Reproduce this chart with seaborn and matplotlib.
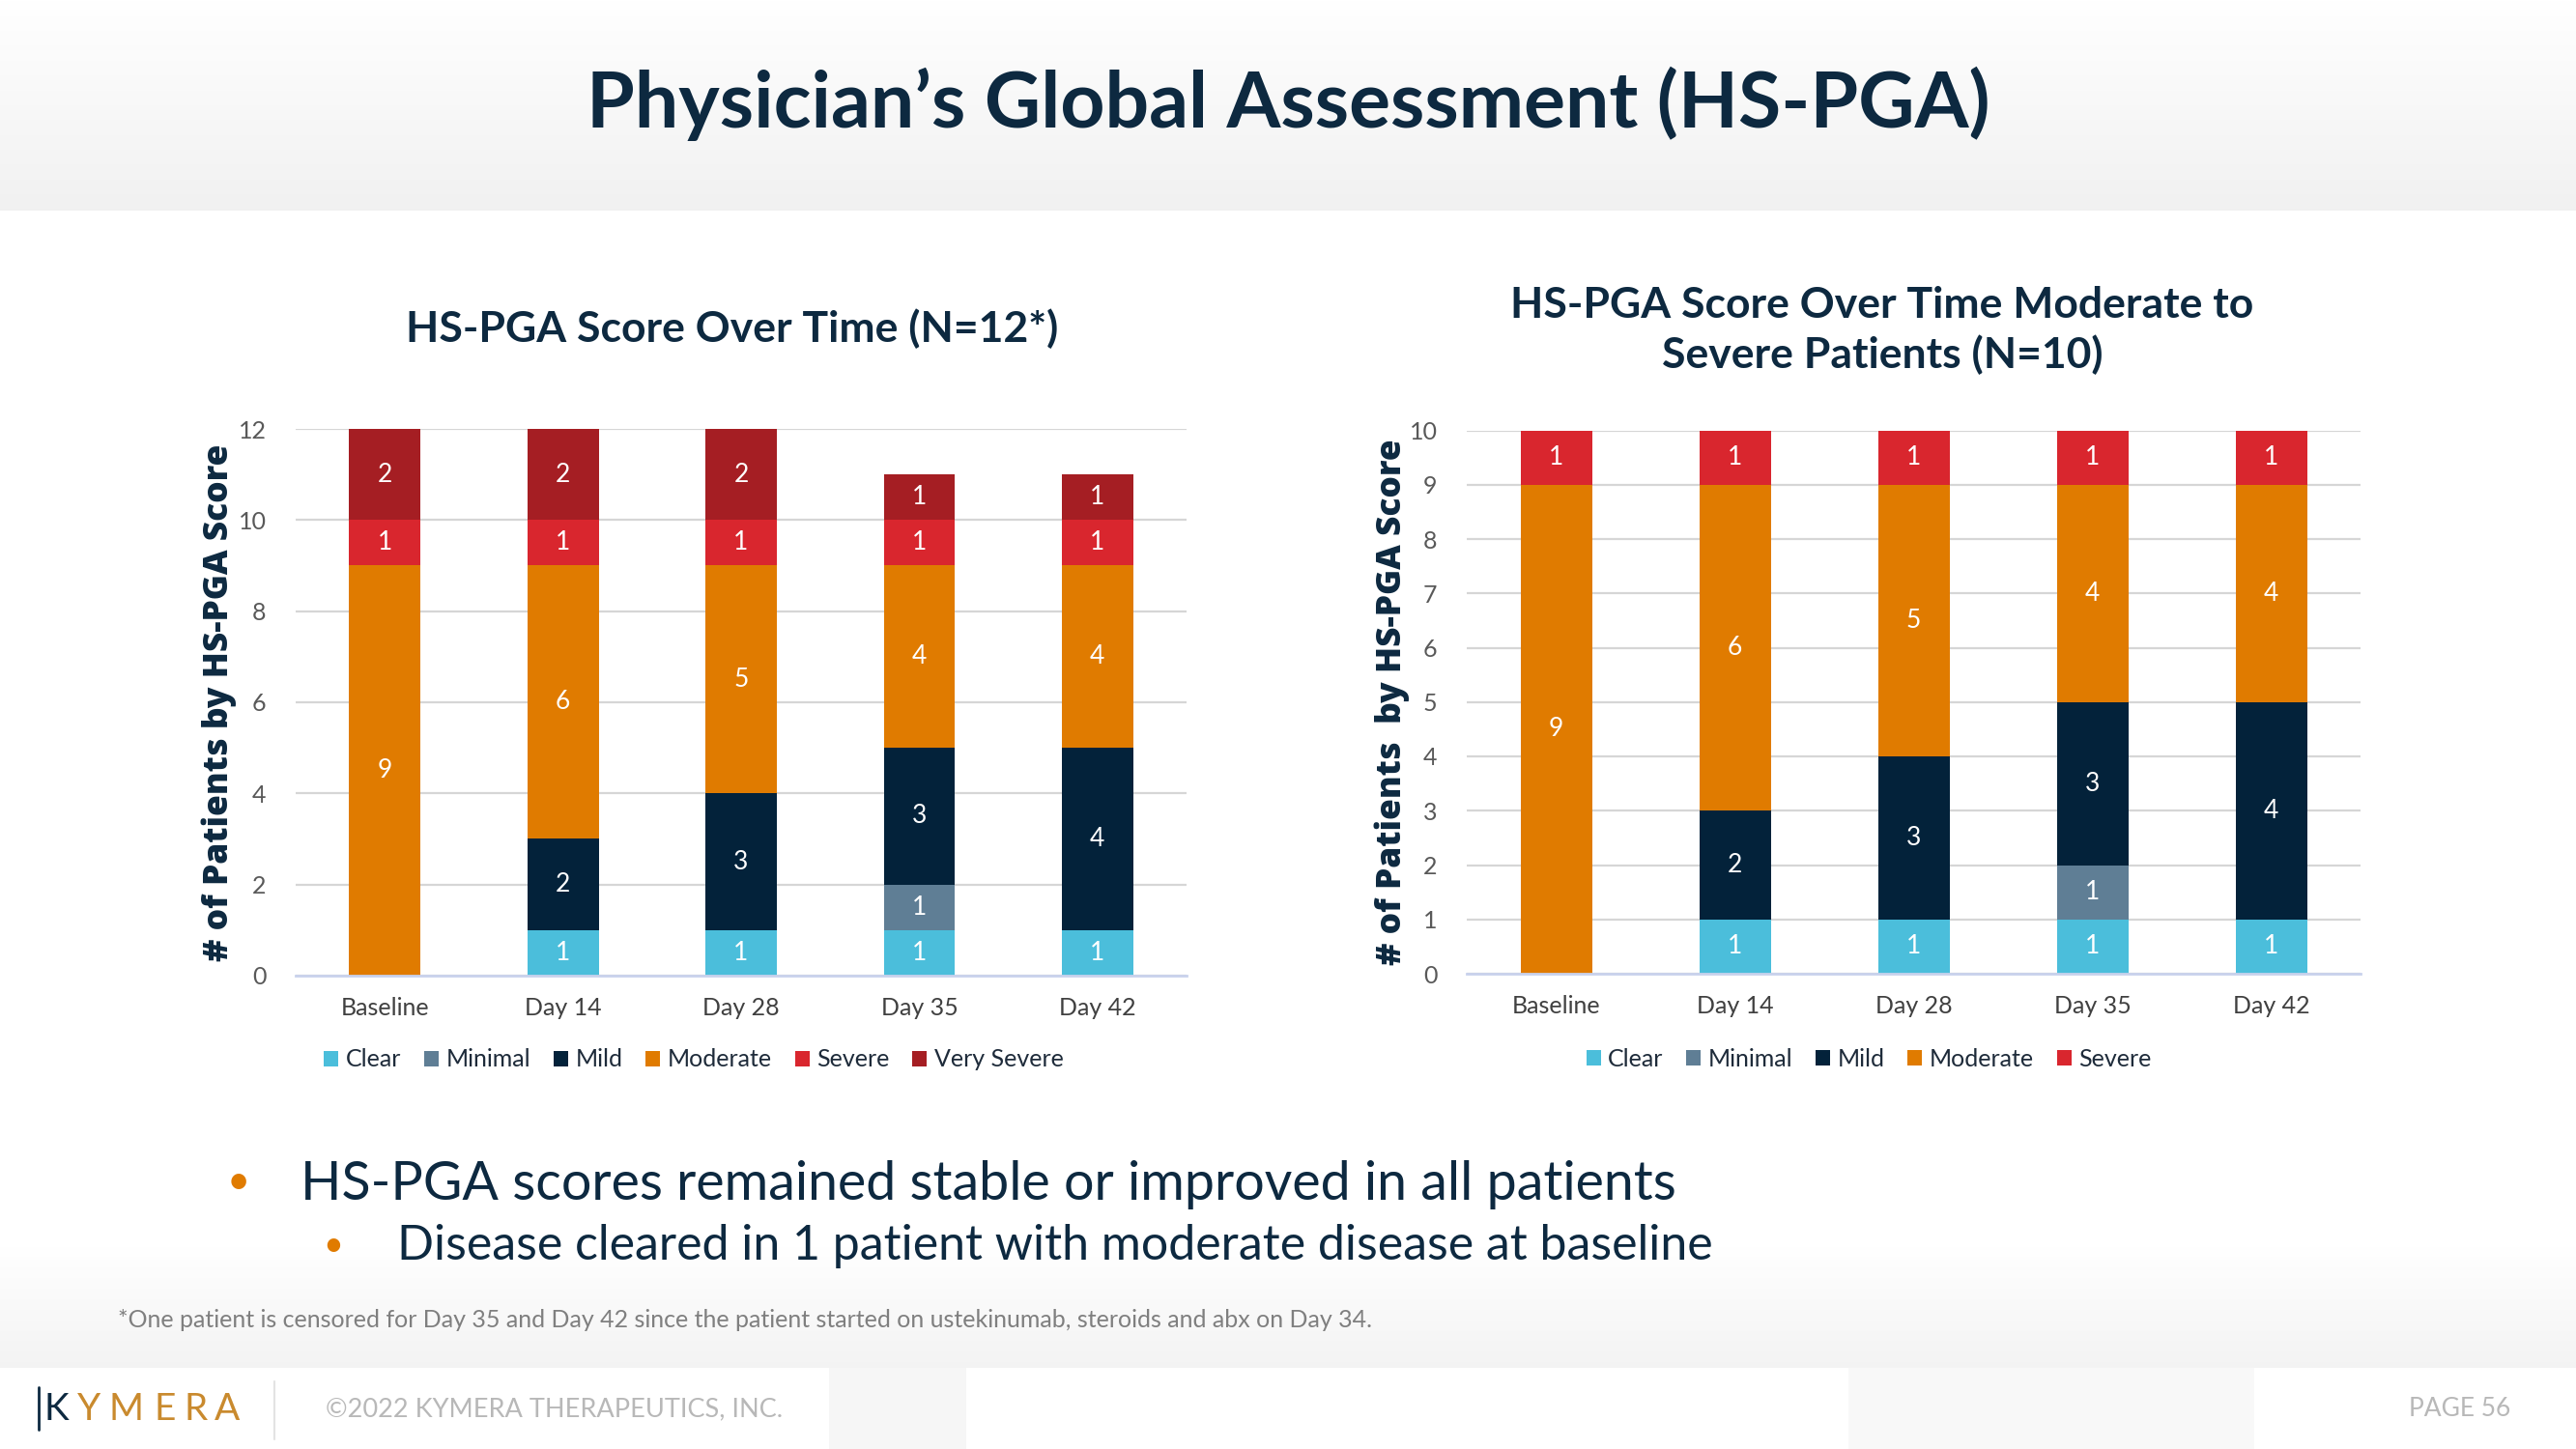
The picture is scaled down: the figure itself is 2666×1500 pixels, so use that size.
import numpy as np
import pandas as pd
import matplotlib
matplotlib.use("Agg")
import matplotlib.pyplot as plt
import seaborn as sns
from matplotlib.patches import Patch

# ---------------- data ----------------
timepoints = ["Baseline", "Day 14", "Day 28", "Day 35", "Day 42"]

categories_all = ["Clear", "Minimal", "Mild", "Moderate", "Severe", "Very Severe"]
clear_all = [0, 1, 1, 1, 1]
minimal_all = [0, 0, 0, 1, 0]
mild_all = [0, 2, 3, 3, 4]
moderate_all = [9, 6, 5, 4, 4]
severe_all = [1, 1, 1, 1, 1]
very_severe_all = [2, 2, 2, 1, 1]

categories_ms = ["Clear", "Minimal", "Mild", "Moderate", "Severe"]
clear_ms = [0, 1, 1, 1, 1]
minimal_ms = [0, 0, 0, 1, 0]
mild_ms = [0, 2, 3, 3, 4]
moderate_ms = [9, 6, 5, 4, 4]
severe_ms = [1, 1, 1, 1, 1]

yticks_all = [0, 2, 4, 6, 8, 10, 12]
yticks_ms = [0, 1, 2, 3, 4, 5, 6, 7, 8, 9, 10]

colors = {
    "Clear": "#4BBEDB",
    "Minimal": "#5F7E95",
    "Mild": "#03223A",
    "Moderate": "#E07B00",
    "Severe": "#D9262E",
    "Very Severe": "#A51E23",
}

NAVY = "#0D2940"

sns.set_theme(style="white")
plt.rcParams["font.family"] = ["Lato", "DejaVu Sans"]

fig = plt.figure(figsize=(26.66, 15), dpi=100)

# ---------------- background bands ----------------
bg = fig.add_axes([0, 0, 1, 1], zorder=-10)
bg.set_xlim(0, 2666)
bg.set_ylim(1500, 0)
bg.axis("off")
grad = np.linspace(1.0, 0.945, 100).reshape(-1, 1)
bg.imshow(np.dstack([grad] * 3), extent=[0, 2666, 218, 0], aspect="auto")
grad2 = np.linspace(1.0, 0.955, 100).reshape(-1, 1)
bg.imshow(np.dstack([grad2] * 3), extent=[0, 2666, 1416, 1290], aspect="auto")
bg.fill_between([858, 1000], 1416, 1500, color="#F6F6F6", lw=0)
bg.fill_between([1913, 2333], 1416, 1500, color="#F8F8F8", lw=0)
bg.plot([284, 284], [1430, 1490], color="#E3E3E3", lw=1.5)
bg.plot([40, 40], [1436, 1480], color=NAVY, lw=2)


def stacked(ax, layers, names, ymax, yticks):
    cum = np.zeros(len(timepoints))
    cums = []
    for vals in layers:
        cum = cum + np.array(vals, dtype=float)
        cums.append(cum.copy())
    for i in reversed(range(len(layers))):
        d = pd.DataFrame({"Timepoint": timepoints, "Top": cums[i]})
        sns.barplot(data=d, x="Timepoint", y="Top", order=timepoints,
                    color=colors[names[i]], saturation=1, width=0.4,
                    ax=ax, zorder=3, edgecolor="none", linewidth=0)
    for i, vals in enumerate(layers):
        for j, v in enumerate(vals):
            if v > 0:
                ax.text(j, cums[i][j] - v / 2, str(v), ha="center", va="center",
                        color="white", fontsize=19, zorder=5)
    ax.set_xlim(-0.5, len(timepoints) - 0.5)
    ax.set_ylim(0, ymax)
    ax.set_yticks(yticks)
    ax.yaxis.grid(True, color="#D6D6D6", lw=1.6, zorder=0)
    ax.set_axisbelow(True)
    for s in ["top", "right", "left"]:
        ax.spines[s].set_visible(False)
    ax.spines["bottom"].set_color("#C9D2EC")
    ax.spines["bottom"].set_linewidth(2)
    ax.spines["bottom"].set_zorder(4)
    ax.tick_params(axis="y", length=0, labelsize=18, labelcolor="#595959", pad=22)
    ax.tick_params(axis="x", length=0, labelsize=18, labelcolor="#404040", pad=16)
    ax.set_xlabel("")
    ax.set_facecolor("none")


YLAB_FONT = ["Open Sans", "Lato", "DejaVu Sans"]

# ---------------- left chart ----------------
ax1 = fig.add_axes([0.1148, 0.3267, 0.3458, 0.3773])
stacked(ax1, [clear_all, minimal_all, mild_all, moderate_all, severe_all, very_severe_all],
        categories_all, 12, yticks_all)
ax1.set_ylabel("# of Patients by HS-PGA Score", fontsize=25.5, fontweight=800,
               color=NAVY, family=YLAB_FONT)
ax1.yaxis.set_label_coords(-0.066, 0.5)

# ---------------- right chart ----------------
ax2 = fig.add_axes([0.5694, 0.328, 0.347, 0.375])
stacked(ax2, [clear_ms, minimal_ms, mild_ms, moderate_ms, severe_ms],
        categories_ms, 10, yticks_ms)
ax2.set_ylabel("# of Patients  by HS-PGA Score", fontsize=25.5, fontweight=800,
               color=NAVY, family=YLAB_FONT)
ax2.yaxis.set_label_coords(-0.064, 0.5)

# ---------------- titles ----------------
fig.text(1333 / 2666, 1 - 107 / 1500, "Physician\u2019s Global Assessment (HS-PGA)",
         ha="center", va="center", fontsize=58, fontweight="bold", color=NAVY)
fig.text(758 / 2666, 1 - 340 / 1500, "HS-PGA Score Over Time (N=12*)",
         ha="center", va="center", fontsize=32, fontweight="bold", color=NAVY)
fig.text(1948 / 2666, 1 - 342 / 1500, "HS-PGA Score Over Time Moderate to\nSevere Patients (N=10)",
         ha="center", va="center", fontsize=32, fontweight="bold", color=NAVY,
         linespacing=1.32)

# ---------------- legends ----------------
def legend(names, x, y):
    handles = [Patch(facecolor=colors[n], edgecolor="none", label=n) for n in names]
    lg = fig.legend(handles=handles, loc="center", bbox_to_anchor=(x, y), ncol=len(names),
                    frameon=False, fontsize=18, handlelength=0.6, handleheight=0.6,
                    handletextpad=0.3, columnspacing=0.95)
    for t in lg.get_texts():
        t.set_color("#1E2B3A")

legend(categories_all, 718 / 2666, 1 - 1097 / 1500)
legend(categories_ms, 1934 / 2666, 1 - 1096 / 1500)

# ---------------- bullets ----------------
fig.text(247 / 2666, 1 - 1224 / 1500, "\u2022", ha="center", va="center",
         fontsize=30, color="#E07B00")
fig.text(311 / 2666, 1 - 1226 / 1500, "HS-PGA scores remained stable or improved in all patients",
         ha="left", va="center", fontsize=40, color=NAVY)
fig.text(345 / 2666, 1 - 1289 / 1500, "\u2022", ha="center", va="center",
         fontsize=26, color="#E07B00")
fig.text(411 / 2666, 1 - 1290 / 1500, "Disease cleared in 1 patient with moderate disease at baseline",
         ha="left", va="center", fontsize=36, color=NAVY)

fig.text(122 / 2666, 1 - 1367 / 1500,
         "*One patient is censored for Day 35 and Day 42 since the patient started on ustekinumab, steroids and abx on Day 34.",
         ha="left", va="center", fontsize=18, color="#7F7F7F")

# ---------------- footer ----------------
logo_letters = ["K", "Y", "M", "E", "R", "A"]
logo_x = [58, 92, 131, 171, 203, 235]
for i, (ch, lx) in enumerate(zip(logo_letters, logo_x)):
    fig.text(lx / 2666, 1 - 1459 / 1500, ch, ha="center", va="center", fontsize=28,
             color=NAVY if i == 0 else "#C98A2E")
fig.text(337 / 2666, 1 - 1459 / 1500, "\u00a92022 KYMERA THERAPEUTICS, INC.",
         ha="left", va="center", fontsize=19.5, color="#B8B8B8")
fig.text(2598 / 2666, 1 - 1459 / 1500, "PAGE 56", ha="right", va="center",
         fontsize=19, color="#B8B8B8")

fig.savefig("out.png", dpi=100)
